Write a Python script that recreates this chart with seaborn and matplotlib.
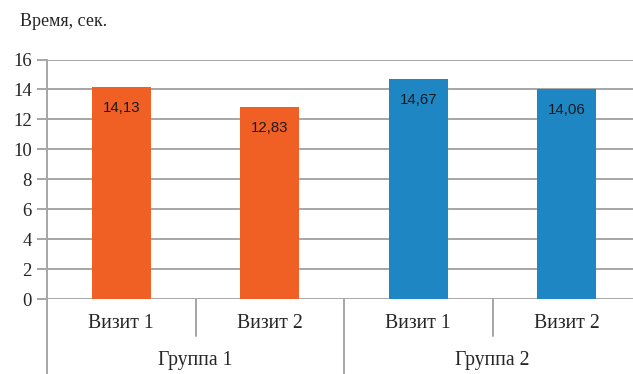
import matplotlib
matplotlib.use("Agg")
import matplotlib.pyplot as plt
import matplotlib.transforms as mtransforms
import seaborn as sns
import pandas as pd

# Data
keys = ["g1v1", "g1v2", "g2v1", "g2v2"]
visits = ["Визит 1", "Визит 2", "Визит 1", "Визит 2"]
groups = ["Группа 1", "Группа 1", "Группа 2", "Группа 2"]
group_names = ["Группа 1", "Группа 2"]
values = [14.13, 12.83, 14.67, 14.06]
value_labels = ["14,13", "12,83", "14,67", "14,06"]
y_ticks = [0, 2, 4, 6, 8, 10, 12, 14, 16]
title = "Время, сек."

colors = {"Группа 1": "#F05F24", "Группа 2": "#1F86C4"}
grid_col = "#A6A6A6"

sns.set_style("white")
plt.rcParams["font.family"] = ["Liberation Serif", "DejaVu Serif"]

W, H = 633, 374
fig = plt.figure(figsize=(W / 100, H / 100), dpi=100)
ax_left, ax_right = 47, 641
ax_bottom, ax_top = 299, 59.5
ax = fig.add_axes([ax_left / W, (H - ax_bottom) / H, (ax_right - ax_left) / W, (ax_bottom - ax_top) / H])

df = pd.DataFrame({"key": keys, "value": values, "group": groups})
sns.barplot(data=df, x="key", y="value", hue="group", palette=colors, dodge=False,
            width=0.40, ax=ax, legend=False, saturation=1, linewidth=0)

ax.set_ylim(0, 16)
ax.set_xlim(-0.5, 3.5)
ax.set_yticks(y_ticks)
ax.set_yticklabels([str(t) for t in y_ticks], fontsize=13.5)
ax.set_xticks([])
ax.set_xlabel("")
ax.set_ylabel("")
ax.yaxis.grid(True, color=grid_col, linewidth=1.4)
ax.set_axisbelow(True)
for s in ["top", "right", "bottom"]:
    ax.spines[s].set_visible(False)
ax.spines["left"].set_color(grid_col)
ax.spines["left"].set_linewidth(1.4)
ax.tick_params(axis="y", which="both", left=True, length=7, width=1.4, color=grid_col, pad=4)

# value labels
for i, (v, lab) in enumerate(zip(values, value_labels)):
    ax.annotate(lab, xy=(i, v), xytext=(0, -21), textcoords="offset pixels",
                ha="center", va="center", fontsize=10.8, family=["Liberation Sans", "DejaVu Sans"],
                color="#1a1a1a")

# category axis (multi-level)
trans = mtransforms.blended_transform_factory(ax.transData, ax.transAxes)
px = 1.0 / (ax_bottom - ax_top)  # axes fraction per pixel
sep_long = [-0.5, 1.5, 3.5]
sep_short = [0.5, 2.5]
for x in sep_long:
    ax.plot([x, x], [0, -(H - ax_bottom) * px], transform=trans, color=grid_col, lw=1.4, clip_on=False)
for x in sep_short:
    ax.plot([x, x], [0, -(336 - ax_bottom) * px], transform=trans, color=grid_col, lw=1.4, clip_on=False)
for i, vis in enumerate(visits):
    ax.text(i, -(323 - ax_bottom) * px, vis, transform=trans, ha="center", va="center", fontsize=14.2)
for j, g in enumerate(group_names):
    ax.text(2 * j + 0.5, -(361 - ax_bottom) * px, g, transform=trans, ha="center", va="center", fontsize=14.2)

fig.text(20 / W, 1 - 22 / H, title, ha="left", va="center", fontsize=13)

fig.savefig("out.png", dpi=100)
